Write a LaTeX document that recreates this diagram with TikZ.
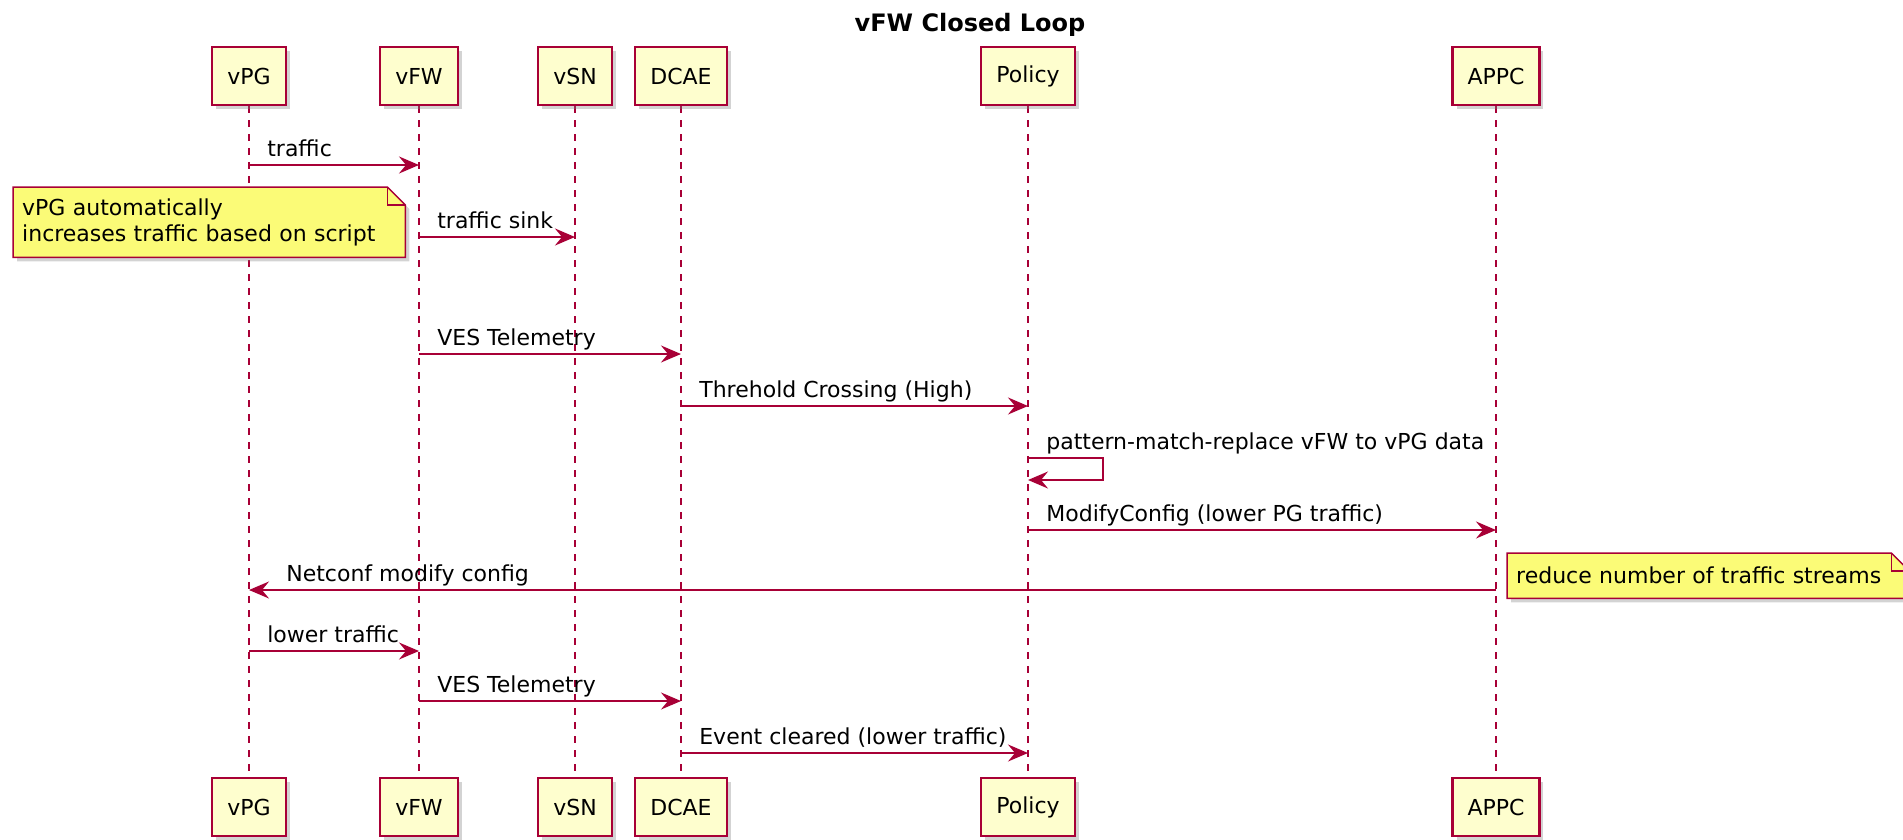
\documentclass[tikz,border=0pt]{standalone}
\usepackage{fontspec}
\setmainfont{DejaVu Sans}
\usepackage{tikz}
\usetikzlibrary{arrows.meta,shadows,backgrounds}

\definecolor{umlred}{HTML}{A80036}
\definecolor{umlbox}{HTML}{FEFECE}
\definecolor{umlnote}{HTML}{FBFB77}

\begin{document}
\begin{tikzpicture}[x=1pt,y=-1pt,>={Stealth[length=20pt,width=17pt,inset=7pt]},
    font=\fontsize{22}{26}\selectfont,
    part node/.style={rectangle,draw=umlred,fill=umlbox,line width=2.2pt,minimum height=58pt,inner xsep=15pt,
      drop shadow={shadow xshift=4pt,shadow yshift=-4pt,opacity=0.35}},
    life line/.style={draw=umlred,line width=1.3pt,dash pattern=on 7pt off 7pt},
    msg/.style={->,draw=umlred,line width=2pt},
    msg label/.style={anchor=base west,pos=0,xshift=14pt,yshift=9pt},
    back label/.style={anchor=base west,pos=1,xshift=33pt,yshift=9pt},
    note node/.style={anchor=north west,align=left,inner xsep=9pt,inner ysep=0pt},
    note line/.style={draw=umlred,fill=umlnote,line width=1.5pt,
      drop shadow={shadow xshift=4pt,shadow yshift=-4pt,opacity=0.35}}]

  \useasboundingbox (0,0) rectangle (1903,839);

  \node[anchor=base,font=\bfseries\fontsize{24}{28}\selectfont] (title) at (970,31) {vFW Closed Loop};

  % participants
  \node[part node] (vpg) at (249,76) {vPG};
  \node[part node] (vfw) at (419,76) {vFW};
  \node[part node] (vsn) at (575,76) {vSN};
  \node[part node] (dcae) at (681,76) {DCAE};
  \node[part node] (policy) at (1028,76) {Policy};
  \node[part node] (appc) at (1496,76) {APPC};

  \node[part node] (vpgbot) at (249,807) {vPG};
  \node[part node] (vfwbot) at (419,807) {vFW};
  \node[part node] (vsnbot) at (575,807) {vSN};
  \node[part node] (dcaebot) at (681,807) {DCAE};
  \node[part node] (policybot) at (1028,807) {Policy};
  \node[part node] (appcbot) at (1496,807) {APPC};

  % notes
  \node[note node,text width=374pt,minimum height=70pt] (pgnote) at (13,187)
    {vPG automatically\\increases traffic based on script};
  \node[note node,text width=384pt,minimum height=45pt] (appcnote) at (1507,553)
    {reduce number of traffic streams};

  \begin{scope}[on background layer]
    \draw[life line] (vpg) -- (vpgbot);
    \draw[life line] (vfw) -- (vfwbot);
    \draw[life line] (vsn) -- (vsnbot);
    \draw[life line] (dcae) -- (dcaebot);
    \draw[life line] (policy) -- (policybot);
    \draw[life line] (appc) -- (appcbot);

    \filldraw[note line] (pgnote.south west) -- (pgnote.north west) -- ([xshift=-18pt]pgnote.north east)
      -- ([yshift=-18pt]pgnote.north east) -- (pgnote.south east) -- cycle;
    \draw[umlred,line width=1.5pt] ([xshift=-18pt]pgnote.north east) |- ([yshift=-18pt]pgnote.north east);
    \filldraw[note line] (appcnote.south west) -- (appcnote.north west) -- ([xshift=-18pt]appcnote.north east)
      -- ([yshift=-18pt]appcnote.north east) -- (appcnote.south east) -- cycle;
    \draw[umlred,line width=1.5pt] ([xshift=-18pt]appcnote.north east) |- ([yshift=-18pt]appcnote.north east);
  \end{scope}

  % message rows
  \coordinate (r1) at (0,165);
  \coordinate (r2) at (0,237);
  \coordinate (r3) at (0,354);
  \coordinate (r4) at (0,406);
  \coordinate (r5) at (0,458);
  \coordinate (r5b) at (0,480);
  \coordinate (r6) at (0,530);
  \coordinate (r7) at (0,590);
  \coordinate (r8) at (0,651);
  \coordinate (r9) at (0,701);
  \coordinate (r10) at (0,753);

  \draw[msg] (vpg |- r1) -- (vfw |- r1) node[msg label] {traffic};
  \draw[msg] (vfw |- r2) -- (vsn |- r2) node[msg label] {traffic sink};
  \draw[msg] (vfw |- r3) -- (dcae |- r3) node[msg label] {VES Telemetry};
  \draw[msg] (dcae |- r4) -- (policy |- r4) node[msg label] {Threhold Crossing (High)};
  \draw[msg] (policy |- r5) -- ++(75,0) node[msg label] {pattern-match-replace vFW to vPG data}
    -- ++(0,22) -- (policy |- r5b);
  \draw[msg] (policy |- r6) -- (appc |- r6) node[msg label] {ModifyConfig (lower PG traffic)};
  \draw[msg] (appc |- r7) -- (vpg |- r7) node[back label] {Netconf modify config};
  \draw[msg] (vpg |- r8) -- (vfw |- r8) node[msg label] {lower traffic};
  \draw[msg] (vfw |- r9) -- (dcae |- r9) node[msg label] {VES Telemetry};
  \draw[msg] (dcae |- r10) -- (policy |- r10) node[msg label] {Event cleared (lower traffic)};

\end{tikzpicture}
\end{document}
